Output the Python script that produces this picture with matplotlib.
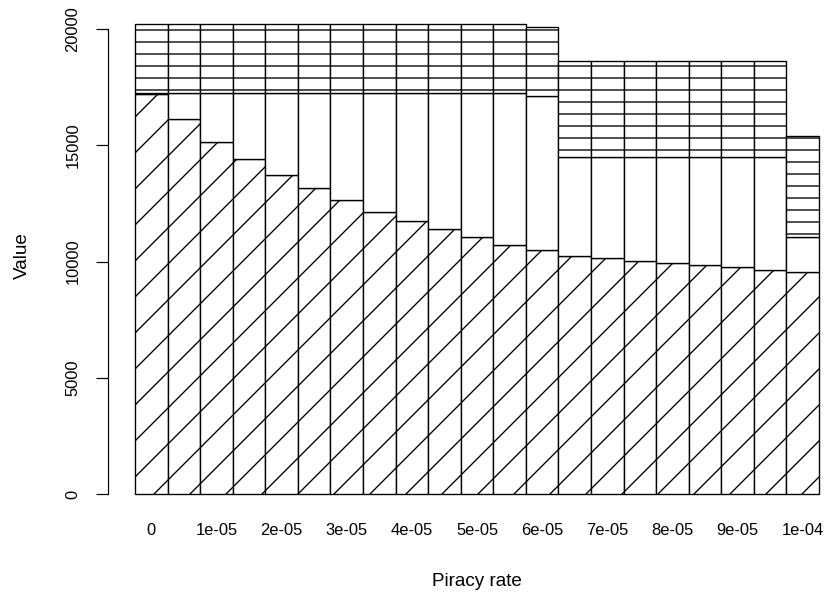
#!/usr/bin/env python3
"""Stacked hatched barplot: value vs piracy rate (R barplot look)"""
import numpy as np
import matplotlib
matplotlib.use('Agg')
import matplotlib.pyplot as plt

# 21 piracy rates, 0 .. 1e-04 in steps of 5e-06; only every other one is labelled
rates = ['0', '5e-06', '1e-05', '1.5e-05', '2e-05', '2.5e-05', '3e-05', '3.5e-05',
         '4e-05', '4.5e-05', '5e-05', '5.5e-05', '6e-05', '6.5e-05', '7e-05',
         '7.5e-05', '8e-05', '8.5e-05', '9e-05', '9.5e-05', '1e-04']

# bottom segment (diagonal hatch)
seg_diag = [17200, 16140, 15170, 14420, 13730, 13150, 12650, 12150, 11760, 11400,
            11070, 10720, 10490, 10260, 10150, 10030, 9940, 9860, 9750, 9630, 9570]
# middle segment (no hatch)
seg_blank = [80, 1140, 2110, 2860, 3550, 4130, 4630, 5130, 5520, 5880,
             6210, 6560, 6620, 4240, 4350, 4470, 4560, 4640, 4750, 4870, 1470]
# top segment (horizontal hatch)
seg_horiz = [2940, 2940, 2940, 2940, 2940, 2940, 2940, 2940, 2940, 2940,
             2940, 2940, 2990, 4120, 4120, 4120, 4120, 4120, 4120, 4120, 4350]

yticks = [0, 5000, 10000, 15000, 20000]

DPI = 216  # hatch cell = 1 inch, so this sets hatch spacing in pixels
W, H = 827, 602
plt.rcParams.update({
    'font.family': ['Liberation Sans', 'DejaVu Sans'],
    'hatch.linewidth': 0.45,
    'hatch.color': 'black',
})

fig = plt.figure(figsize=(W / DPI, H / DPI), dpi=DPI)
# plot region in pixels (R style: 4% padding around the data)
left, right, top, bottom = 107.6, 846.4, 5.4, 512.8
ax = fig.add_axes([left / W, 1 - bottom / H, (right - left) / W, (bottom - top) / H])

x = np.arange(len(rates))
d = np.array(seg_diag)
b = np.array(seg_blank)
h = np.array(seg_horiz)
lw = 0.45
ax.bar(x, d, width=1, align='edge', color='white', edgecolor='black', linewidth=lw, hatch='//')
ax.bar(x, b, width=1, align='edge', bottom=d, color='white', edgecolor='black', linewidth=lw)
ax.bar(x, h, width=1, align='edge', bottom=d + b, color='white', edgecolor='black',
       linewidth=lw, hatch='---')

ax.set_xlim(-0.84, 21.84)
ax.set_ylim(-809, 21029)

for s in ['top', 'right', 'bottom']:
    ax.spines[s].set_visible(False)
ax.spines['left'].set_bounds(0, 20000)
ax.spines['left'].set_linewidth(0.4)

ax.set_yticks(yticks)
ax.set_yticklabels([str(v) for v in yticks], rotation=90, va='center', fontsize=5.5)
ax.tick_params(axis='y', length=4, width=0.4, pad=5)

shown = list(range(0, len(rates), 2))
ax.set_xticks([i + 0.5 for i in shown])
ax.set_xticklabels([rates[i] for i in shown], fontsize=5.5)
ax.tick_params(axis='x', length=0, pad=3.5)

fig.text(22.5 / W, 1 - 256 / H, 'Value', rotation=90, ha='center', va='center', fontsize=6.3)
fig.text(477 / W, 1 - 582 / H, 'Piracy rate', ha='center', va='center', fontsize=6.3)

fig.savefig('out.png', dpi=DPI)
